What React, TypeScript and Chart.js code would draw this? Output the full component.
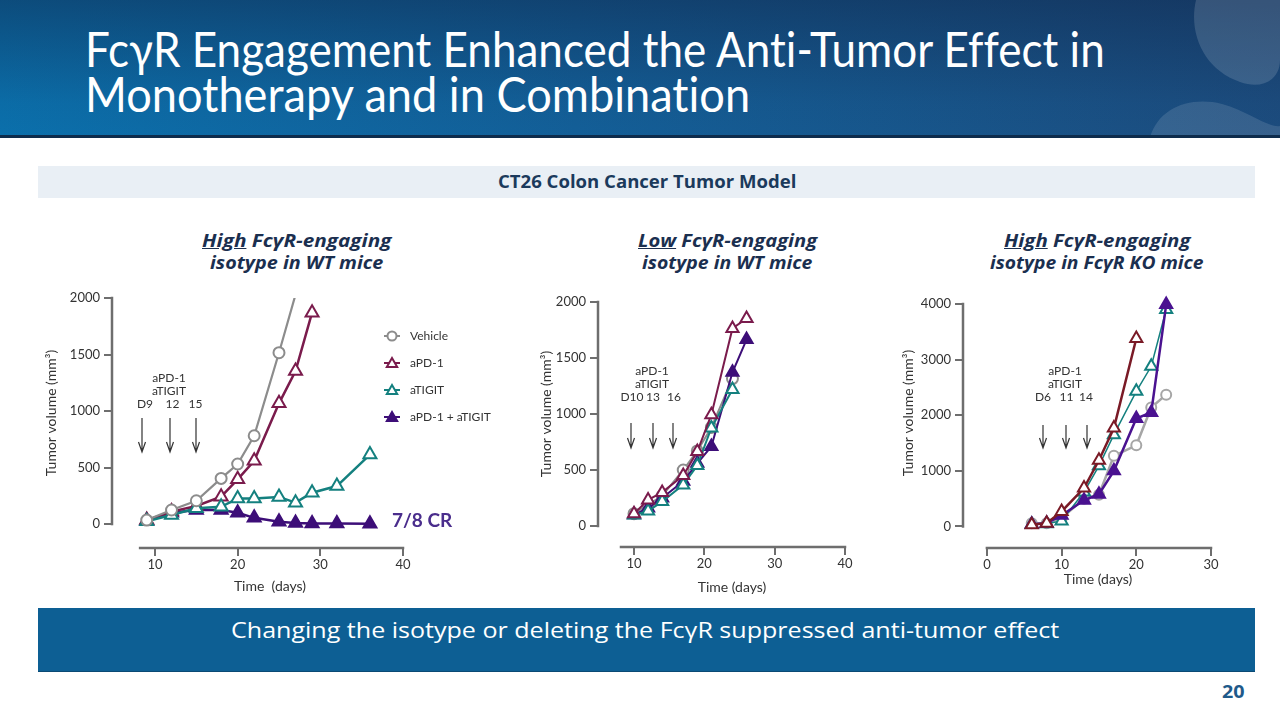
import React, { useEffect, useLayoutEffect, useRef, useState } from 'react';
import { Chart, registerables } from 'chart.js';

Chart.register(...registerables);

const FONT = 'Lato, "Open Sans", sans-serif';
const TITLE_FONT = '"Open Sans", Lato, sans-serif';
const GRAY = '#8c8c8c';
const GRAY3 = '#a6a6a6';
const MAROON = '#7a1b4c';
const RED3 = '#7a1a26';
const TEAL = '#14807f';
const PURPLE = '#3d0e78';
const PURPLE3 = '#4a1290';
const AXIS = '#6e6e6e';
const TEXT = '#333333';

const seriesNames = ['Vehicle', 'aPD-1', 'aTIGIT', 'aPD-1 + aTIGIT'];

// ---- Chart 1: High FcγR-engaging isotype in WT mice ----
const c1VehicleDays = [9, 12, 15, 18, 20, 22, 25, 27];
const c1Vehicle = [35, 124, 206, 404, 531, 781, 1516, 2030];
const c1PD1Days = [9, 12, 15, 18, 20, 22, 25, 27, 29];
const c1PD1 = [35, 110, 160, 242, 396, 560, 1068, 1354, 1870];
const c1TIGITDays = [9, 12, 15, 18, 20, 22, 25, 27, 29, 32, 36];
const c1TIGIT = [25, 80, 139, 153, 227, 227, 240, 189, 277, 336, 615];
const c1ComboDays = [9, 12, 15, 18, 20, 22, 25, 27, 29, 32, 36];
const c1Combo = [30, 100, 124, 124, 100, 55, 20, 10, 5, 4, 3];
const c1XTicks = [10, 20, 30, 40];
const c1YTicks = [0, 500, 1000, 1500, 2000];
const c1Doses = ['D9', '12', '15'];

// ---- Chart 2: Low FcγR-engaging isotype in WT mice ----
const c2VehicleDays = [10, 12, 14, 17, 19, 21, 24];
const c2Vehicle = [110, 190, 270, 500, 670, 880, 1316];
const c2PD1Days = [10, 12, 14, 17, 19, 21, 24, 26];
const c2PD1 = [110, 233, 300, 450, 665, 994, 1764, 1853];
const c2TIGITDays = [10, 12, 14, 17, 19, 21, 24];
const c2TIGIT = [98, 134, 218, 367, 540, 875, 1218];
const c2ComboDays = [10, 12, 14, 17, 19, 21, 24, 26];
const c2Combo = [100, 160, 250, 400, 560, 710, 1372, 1665];
const c2XTicks = [10, 20, 30, 40];
const c2YTicks = [0, 500, 1000, 1500, 2000];
const c2Doses = ['D10', '13', '16'];

// ---- Chart 3: High FcγR-engaging isotype in FcγR KO mice ----
const c3VehicleDays = [6, 8, 10, 13, 15, 17, 20, 22, 24];
const c3Vehicle = [60, 60, 150, 500, 570, 1270, 1460, 2140, 2370];
const c3PD1Days = [6, 8, 10, 13, 15, 17, 20];
const c3PD1 = [30, 60, 270, 690, 1190, 1770, 3380];
const c3TIGITDays = [6, 8, 10, 13, 15, 17, 20, 22, 24];
const c3TIGIT = [40, 50, 100, 620, 1090, 1650, 2430, 2880, 3900];
const c3ComboDays = [6, 8, 10, 13, 15, 17, 20, 22, 24];
const c3Combo = [40, 60, 200, 470, 580, 1000, 1940, 2050, 3990];
const c3XTicks = [0, 10, 20, 30];
const c3YTicks = [0, 1000, 2000, 3000, 4000];
const c3Doses = ['D6', '11', '14'];

function pts(days: number[], vals: number[]) {
  return days.map((d, i) => ({ x: d, y: vals[i] }));
}

function ds(label: string, days: number[], vals: number[], color: string, style: string, filled: boolean, r: number, lw: number, order: number, clip: any, yCap?: number) {
  return {
    label,
    data: pts(days, vals),
    borderColor: color,
    backgroundColor: filled ? color : '#ffffff',
    borderWidth: lw,
    pointStyle: style,
    // points beyond the top of the axis are not marked (the line just leaves the plot)
    pointRadius: (c: any) => (yCap !== undefined && c.raw && c.raw.y > yCap ? 0 : r),
    pointHoverRadius: r,
    pointBorderWidth: 2,
    pointBorderColor: color,
    pointBackgroundColor: filled ? color : '#ffffff',
    tension: 0,
    order,
    clip,
  };
}

function drawMarker(ctx: CanvasRenderingContext2D, style: string, x: number, y: number, r: number, fill: string, stroke: string, bw: number) {
  ctx.beginPath();
  if (style === 'circle') {
    ctx.arc(x, y, r, 0, Math.PI * 2);
  } else {
    ctx.moveTo(x, y - r);
    ctx.lineTo(x + r * 0.866, y + r / 2);
    ctx.lineTo(x - r * 0.866, y + r / 2);
    ctx.closePath();
  }
  ctx.fillStyle = fill;
  ctx.fill();
  ctx.lineWidth = bw;
  ctx.strokeStyle = stroke;
  ctx.stroke();
}

const decorPlugin = {
  id: 'decor',
  afterDraw(chart: any) {
    const o = chart.options.plugins.decor;
    if (!o) return;
    const ctx: CanvasRenderingContext2D = chart.ctx;
    const ca = chart.chartArea;
    const xs = chart.scales.x;
    const ys = chart.scales.y;
    ctx.save();
    // offset axis lines
    ctx.strokeStyle = AXIS;
    ctx.lineWidth = o.axisWidth;
    ctx.beginPath();
    ctx.moveTo(ca.left, ys.getPixelForValue(o.yLine[0]) + o.axisWidth / 2);
    ctx.lineTo(ca.left, ys.getPixelForValue(o.yLine[1]) - o.axisWidth / 2);
    ctx.stroke();
    ctx.beginPath();
    ctx.moveTo(xs.getPixelForValue(o.xLine[0]) - o.axisWidth / 2, ca.bottom);
    ctx.lineTo(xs.getPixelForValue(o.xLine[1]) + o.axisWidth / 2, ca.bottom);
    ctx.stroke();

    // axis titles
    ctx.fillStyle = TEXT;
    ctx.font = `14px ${FONT}`;
    ctx.textAlign = 'center';
    ctx.textBaseline = 'middle';
    ctx.save();
    ctx.translate(o.yTitle.x, o.yTitle.y);
    ctx.rotate(-Math.PI / 2);
    ctx.fillText(o.yTitle.text, 0, 0);
    ctx.restore();
    ctx.fillText(o.xTitle.text, o.xTitle.x, o.xTitle.y);

    // notes
    for (const n of o.notes) {
      ctx.font = n.font || `12px ${FONT}`;
      ctx.fillStyle = n.color || TEXT;
      ctx.textAlign = n.align || 'center';
      ctx.fillText(n.text, n.x, n.y);
    }

    // dosing arrows
    ctx.strokeStyle = '#333';
    ctx.lineWidth = 1.2;
    for (const a of o.arrows) {
      ctx.beginPath();
      ctx.moveTo(a.x, a.y1);
      ctx.lineTo(a.x, a.y2);
      ctx.moveTo(a.x - 3.5, a.y2 - 10);
      ctx.lineTo(a.x, a.y2);
      ctx.lineTo(a.x + 3.5, a.y2 - 10);
      ctx.stroke();
    }

    // legend
    if (o.legend) {
      const L = o.legend;
      chart.data.datasets.forEach((d: any, i: number) => {
        const y = L.y + i * L.gap;
        ctx.strokeStyle = d.borderColor;
        ctx.lineWidth = 2;
        ctx.beginPath();
        ctx.moveTo(L.x - 8, y);
        ctx.lineTo(L.x + 8, y);
        ctx.stroke();
        drawMarker(ctx, d.pointStyle, L.x, y + (d.pointStyle === 'triangle' ? 1 : 0), d.pointStyle === 'circle' ? 4.5 : 6, d.pointBackgroundColor, d.borderColor, 2);
        ctx.font = `12px ${FONT}`;
        ctx.fillStyle = TEXT;
        ctx.textAlign = 'left';
        ctx.textBaseline = 'middle';
        ctx.fillText(d.label, L.x + 18, y);
      });
    }
    ctx.restore();
  },
};

function makeConfig(p: any) {
  return {
    type: 'line',
    data: { datasets: p.datasets },
    options: {
      responsive: false,
      maintainAspectRatio: false,
      animation: false,
      events: [],
      layout: { padding: p.padding },
      plugins: { legend: { display: false }, tooltip: { enabled: false }, decor: p.decor },
      scales: {
        x: {
          type: 'linear',
          min: p.xMin,
          max: p.xMax,
          afterBuildTicks: (s: any) => { s.ticks = p.xTicks.map((v: number) => ({ value: v })); },
          afterFit: (s: any) => { s.height = p.xHeight; },
          border: { display: false },
          grid: { drawOnChartArea: false, drawTicks: true, tickLength: 8, color: AXIS, lineWidth: 2 },
          ticks: { font: { family: FONT, size: 13 }, color: TEXT, padding: 1, maxRotation: 0, autoSkip: false, callback: (v: any) => String(v) },
        },
        y: {
          type: 'linear',
          min: p.yMin,
          max: p.yMax,
          afterBuildTicks: (s: any) => { s.ticks = p.yTicks.map((v: number) => ({ value: v })); },
          afterFit: (s: any) => { s.width = p.yWidth; },
          border: { display: false },
          grid: { drawOnChartArea: false, drawTicks: true, tickLength: 8, color: AXIS, lineWidth: 2 },
          ticks: { font: { family: FONT, size: 13 }, color: TEXT, padding: 4, autoSkip: false, callback: (v: any) => String(v) },
        },
      },
    },
    plugins: [decorPlugin],
  };
}

function doseNotes(doses: string[], cx: number, xs: number[], y0: number) {
  return [
    { text: 'aPD-1', x: cx, y: y0 },
    { text: 'aTIGIT', x: cx, y: y0 + 13 },
    ...doses.map((d, i) => ({ text: d, x: xs[i], y: y0 + 26 })),
  ];
}

const clip1 = { left: 12, top: 0, right: 12, bottom: 12 };

const chart1 = () => makeConfig({
  datasets: [
    ds(seriesNames[0], c1VehicleDays, c1Vehicle, GRAY, 'circle', false, 5.5, 2.2, 0, clip1, 2000),
    ds(seriesNames[1], c1PD1Days, c1PD1, MAROON, 'triangle', false, 7.5, 2.5, 2, clip1),
    ds(seriesNames[2], c1TIGITDays, c1TIGIT, TEAL, 'triangle', false, 7.5, 2.5, 1, clip1),
    ds(seriesNames[3], c1ComboDays, c1Combo, PURPLE, 'triangle', true, 7.5, 2.5, 3, clip1),
  ],
  padding: { left: 0, top: 13, right: 117, bottom: 0 },
  xMin: 4.8, xMax: 40, yMin: -212, yMax: 2000,
  xTicks: c1XTicks, yTicks: c1YTicks, yWidth: 92, xHeight: 52,
  decor: {
    axisWidth: 2.5,
    yLine: [0, 2000], xLine: [8.2, 40],
    yTitle: { text: 'Tumor volume (mm³)', x: 31, y: 128 },
    xTitle: { text: 'Time  (days)', x: 250, y: 301 },
    notes: [
      ...doseNotes(c1Doses, 149, [125, 152.5, 175.5], 93),
      { text: '7/8 CR', x: 372, y: 236, align: 'left', font: `bold 19px ${FONT}`, color: '#4a2d8c' },
    ],
    arrows: [
      { x: 122, y1: 133, y2: 167 },
      { x: 150, y1: 133, y2: 167 },
      { x: 176, y1: 133, y2: 167 },
    ],
    legend: { x: 372, y: 51, gap: 27 },
  },
});

const chart2 = () => makeConfig({
  datasets: [
    ds(seriesNames[0], c2VehicleDays, c2Vehicle, GRAY, 'circle', false, 5.5, 2, 3, false),
    ds(seriesNames[1], c2PD1Days, c2PD1, MAROON, 'triangle', false, 7, 2, 0, false),
    ds(seriesNames[2], c2TIGITDays, c2TIGIT, TEAL, 'triangle', false, 7, 2, 1, false),
    ds(seriesNames[3], c2ComboDays, c2Combo, PURPLE, 'triangle', true, 7, 2, 2, false),
  ],
  padding: { left: 0, top: 17, right: 20, bottom: 0 },
  xMin: 4.88, xMax: 40, yMin: -187.5, yMax: 2000,
  xTicks: c2XTicks, yTicks: c2YTicks, yWidth: 78, xHeight: 53,
  decor: {
    axisWidth: 2.5,
    yLine: [0, 2000], xLine: [8.15, 40],
    yTitle: { text: 'Tumor volume (mm³)', x: 26, y: 129 },
    xTitle: { text: 'Time (days)', x: 212, y: 302 },
    notes: doseNotes(c2Doses, 132, [112, 133, 154], 86),
    arrows: [
      { x: 111, y1: 138, y2: 163 },
      { x: 133, y1: 138, y2: 163 },
      { x: 153, y1: 138, y2: 163 },
    ],
    legend: null,
  },
});

const chart3 = () => makeConfig({
  datasets: [
    ds(seriesNames[0], c3VehicleDays, c3Vehicle, GRAY3, 'circle', false, 5, 2.5, 3, false),
    ds(seriesNames[1], c3PD1Days, c3PD1, RED3, 'triangle', false, 7, 2.5, 0, false),
    ds(seriesNames[2], c3TIGITDays, c3TIGIT, TEAL, 'triangle', false, 7, 1.5, 2, false),
    ds(seriesNames[3], c3ComboDays, c3Combo, PURPLE3, 'triangle', true, 7, 2.5, 1, false),
  ],
  padding: { left: 0, top: 19, right: 59, bottom: 0 },
  xMin: -3.2, xMax: 30, yMin: -387, yMax: 4000,
  xTicks: c3XTicks, yTicks: c3YTicks, yWidth: 83, xHeight: 52,
  decor: {
    axisWidth: 2.5,
    yLine: [0, 4000], xLine: [0, 30],
    yTitle: { text: 'Tumor volume (mm³)', x: 28, y: 128 },
    xTitle: { text: 'Time (days)', x: 218, y: 294 },
    notes: doseNotes(c3Doses, 185, [163, 186.5, 206], 86),
    arrows: [
      { x: 163, y1: 140, y2: 163 },
      { x: 186, y1: 140, y2: 163 },
      { x: 207, y1: 140, y2: 163 },
    ],
    legend: null,
  },
});

function ChartBox({ left, top, width, height, config }: any) {
  const ref = useRef<HTMLCanvasElement>(null);
  useEffect(() => {
    const chart = new Chart(ref.current as HTMLCanvasElement, config() as any);
    return () => chart.destroy();
  }, []);
  return (
    <canvas
      ref={ref}
      width={width}
      height={height}
      style={{ position: 'absolute', left, top, width, height }}
    />
  );
}

function Fit({ left, top, width, style, children }: any) {
  const ref = useRef<HTMLSpanElement>(null);
  const [k, setK] = useState(1);
  useLayoutEffect(() => {
    const el = ref.current;
    if (!el) return;
    const w = el.offsetWidth;
    if (w > 0) setK(width / w);
  }, [width]);
  return (
    <div style={{ position: 'absolute', left, top, whiteSpace: 'nowrap', fontVariantLigatures: 'none', ...style }}>
      <span ref={ref} style={{ display: 'inline-block', transform: `scaleX(${k})`, transformOrigin: 'left top' }}>
        {children}
      </span>
    </div>
  );
}

function CenterFit({ cx, top, width, style, children }: any) {
  return <Fit left={cx - width / 2} top={top} width={width} style={style}>{children}</Fit>;
}

const subTitleStyle = {
  fontFamily: TITLE_FONT,
  fontWeight: 700,
  fontStyle: 'italic',
  fontSize: 17,
  lineHeight: '22px',
  color: '#1b2f4f',
};

export default function App() {
  return (
    <div style={{ position: 'absolute', left: 0, top: 0, width: 1280, height: 720, overflow: 'hidden', background: '#ffffff', fontFamily: FONT }}>
      {/* header */}
      <div
        style={{
          position: 'absolute', left: 0, top: 0, width: 1280, height: 138,
          background: 'linear-gradient(to bottom, rgba(14,32,66,0.45) 0%, rgba(14,32,66,0.05) 75%, rgba(14,32,66,0) 100%), linear-gradient(to right, #0b70ac 0%, #135f98 45%, #1c4c7e 100%)',
        }}
      />
      <svg width={1280} height={138} style={{ position: 'absolute', left: 0, top: 0 }}>
        <path d="M1196,0 C1188,35 1205,70 1240,82 C1262,90 1280,80 1280,60 L1280,0 Z" fill="rgba(255,255,255,0.14)" />
        <path d="M1150,138 C1158,108 1190,96 1222,104 C1250,112 1268,128 1280,126 L1280,138 Z" fill="rgba(255,255,255,0.12)" />
      </svg>
      <div style={{ position: 'absolute', left: 0, top: 135, width: 1280, height: 3, background: '#0e2c4c' }} />
      <Fit left={85} top={21} width={1020} style={{ fontFamily: FONT, fontSize: 48, lineHeight: '56px', color: '#ffffff' }}>
        FcγR Engagement Enhanced the Anti-Tumor Effect in
      </Fit>
      <Fit left={85} top={66} width={665} style={{ fontFamily: FONT, fontSize: 48, lineHeight: '56px', color: '#ffffff' }}>
        Monotherapy and in Combination
      </Fit>

      {/* model banner */}
      <div style={{ position: 'absolute', left: 38, top: 166, width: 1217, height: 32, background: '#e9eff5' }} />
      <Fit left={498} top={171} width={298} style={{ fontFamily: TITLE_FONT, fontWeight: 700, fontSize: 17, lineHeight: '22px', color: '#1b3a5c' }}>
        CT26 Colon Cancer Tumor Model
      </Fit>

      {/* chart titles */}
      <CenterFit cx={296} top={230} width={189} style={subTitleStyle}><u>High</u> FcγR-engaging</CenterFit>
      <CenterFit cx={296} top={252} width={173} style={subTitleStyle}>isotype in WT mice</CenterFit>
      <CenterFit cx={727} top={230} width={179} style={subTitleStyle}><u>Low</u> FcγR-engaging</CenterFit>
      <CenterFit cx={727} top={252} width={170} style={subTitleStyle}>isotype in WT mice</CenterFit>
      <CenterFit cx={1097} top={230} width={186} style={subTitleStyle}><u>High</u> FcγR-engaging</CenterFit>
      <CenterFit cx={1097} top={252} width={214} style={subTitleStyle}>isotype in FcγR KO mice</CenterFit>

      {/* charts */}
      <ChartBox left={20} top={285} width={500} height={315} config={chart1} />
      <ChartBox left={520} top={285} width={345} height={315} config={chart2} />
      <ChartBox left={880} top={285} width={390} height={315} config={chart3} />

      {/* conclusion banner */}
      <div style={{ position: 'absolute', left: 38, top: 608, width: 1217, height: 64, background: '#0d5f94', boxShadow: 'inset 0 -1px 0 #0a4a74' }} />
      <Fit left={231} top={617} width={828} style={{ fontFamily: TITLE_FONT, fontSize: 21, lineHeight: '26px', color: '#ffffff' }}>
        Changing the isotype or deleting the FcγR suppressed anti-tumor effect
      </Fit>

      {/* page number */}
      <Fit left={1222} top={680} width={23} style={{ fontFamily: TITLE_FONT, fontWeight: 700, fontSize: 18, lineHeight: '22px', color: '#1f5a8a' }}>
        20
      </Fit>
    </div>
  );
}
